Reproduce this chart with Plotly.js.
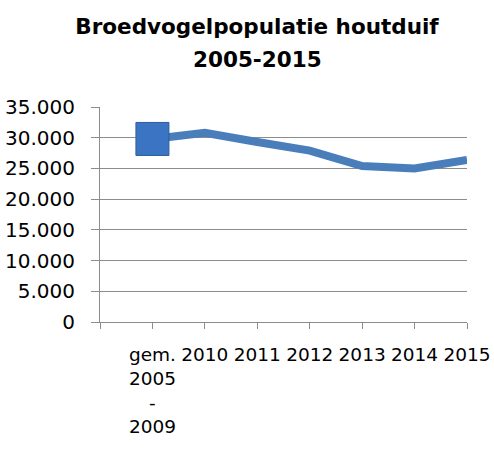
<!DOCTYPE html>
<html>
<head>
<meta charset="utf-8">
<script src="https://cdn.plot.ly/plotly-3.0.1.min.js"></script>
<style>
  html, body { margin: 0; padding: 0; background: #ffffff; }
  #chart { width: 494px; height: 455px; }
</style>
</head>
<body>
<div id="chart"></div>
<script>
// Data
const categories = ['gem.<br>2005<br>-<br>2009', '2010', '2011', '2012', '2013', '2014', '2015'];
const population = [29800, 30800, 29300, 27900, 25400, 25000, 26400];
const titleLine1 = 'Broedvogelpopulatie houtduif';
const titleLine2 = '2005-2015';
const yTickValues = [0, 5000, 10000, 15000, 20000, 25000, 30000, 35000];

const xIdx = categories.map((_, i) => i);
const gridColor = '#8c8c8c';
const fontFam = '"DejaVu Sans", Verdana, sans-serif';

const lineTrace = {
  type: 'scatter',
  mode: 'lines',
  x: xIdx,
  y: population,
  line: { color: '#4a7ebb', width: 8 },
  hoverinfo: 'none',
  showlegend: false
};

// the reference only marks the first point (the multi-year average)
const markerTrace = {
  type: 'scatter',
  mode: 'markers',
  x: [xIdx[0]],
  y: [population[0]],
  marker: {
    symbol: 'square',
    size: 33,
    color: '#3b74c2',
    opacity: 1,
    line: { color: '#2d5d9c', width: 1 }
  },
  hoverinfo: 'none',
  showlegend: false,
  cliponaxis: false
};

const layout = {
  width: 494,
  height: 455,
  margin: { l: 100, r: 27, t: 107, b: 133 },
  paper_bgcolor: '#ffffff',
  plot_bgcolor: '#ffffff',
  separators: ',.',
  font: { family: fontFam, color: '#000000' },
  title: {
    text: titleLine1,
    font: { family: fontFam, size: 21.5, color: '#000000', weight: 'bold' },
    xref: 'container', x: 257 / 494, xanchor: 'center',
    yref: 'container', y: 1 - 26 / 455, yanchor: 'middle'
  },
  annotations: [{
    text: titleLine2,
    xref: 'paper', x: (257 - 100) / 367, xanchor: 'center',
    yref: 'paper', y: (322 - 59) / 215, yanchor: 'middle',
    showarrow: false,
    font: { family: fontFam, size: 21.5, color: '#000000', weight: 'bold' }
  }],
  xaxis: {
    type: 'linear',
    range: [-1, categories.length - 1],
    tickmode: 'array',
    tickvals: [-1].concat(xIdx),
    ticktext: [''].concat(categories),
    ticks: 'outside',
    ticklen: 6,
    tickcolor: gridColor,
    showline: true,
    linecolor: gridColor,
    linewidth: 1,
    showgrid: false,
    zeroline: false,
    tickfont: { family: fontFam, size: 18.5, color: '#000000' },
    ticklabelstandoff: 10,
    fixedrange: true
  },
  yaxis: {
    range: [0, 35000],
    tickmode: 'array',
    tickvals: yTickValues,
    tickformat: ',d',
    ticks: 'outside',
    ticklen: 8,
    tickcolor: gridColor,
    showline: true,
    linecolor: gridColor,
    linewidth: 1,
    showgrid: true,
    gridcolor: gridColor,
    gridwidth: 1,
    zeroline: false,
    tickfont: { family: fontFam, size: 20, color: '#000000' },
    ticklabelstandoff: 12,
    fixedrange: true
  }
};

Plotly.newPlot('chart', [lineTrace, markerTrace], layout, { displayModeBar: false, staticPlot: true });
</script>
</body>
</html>
